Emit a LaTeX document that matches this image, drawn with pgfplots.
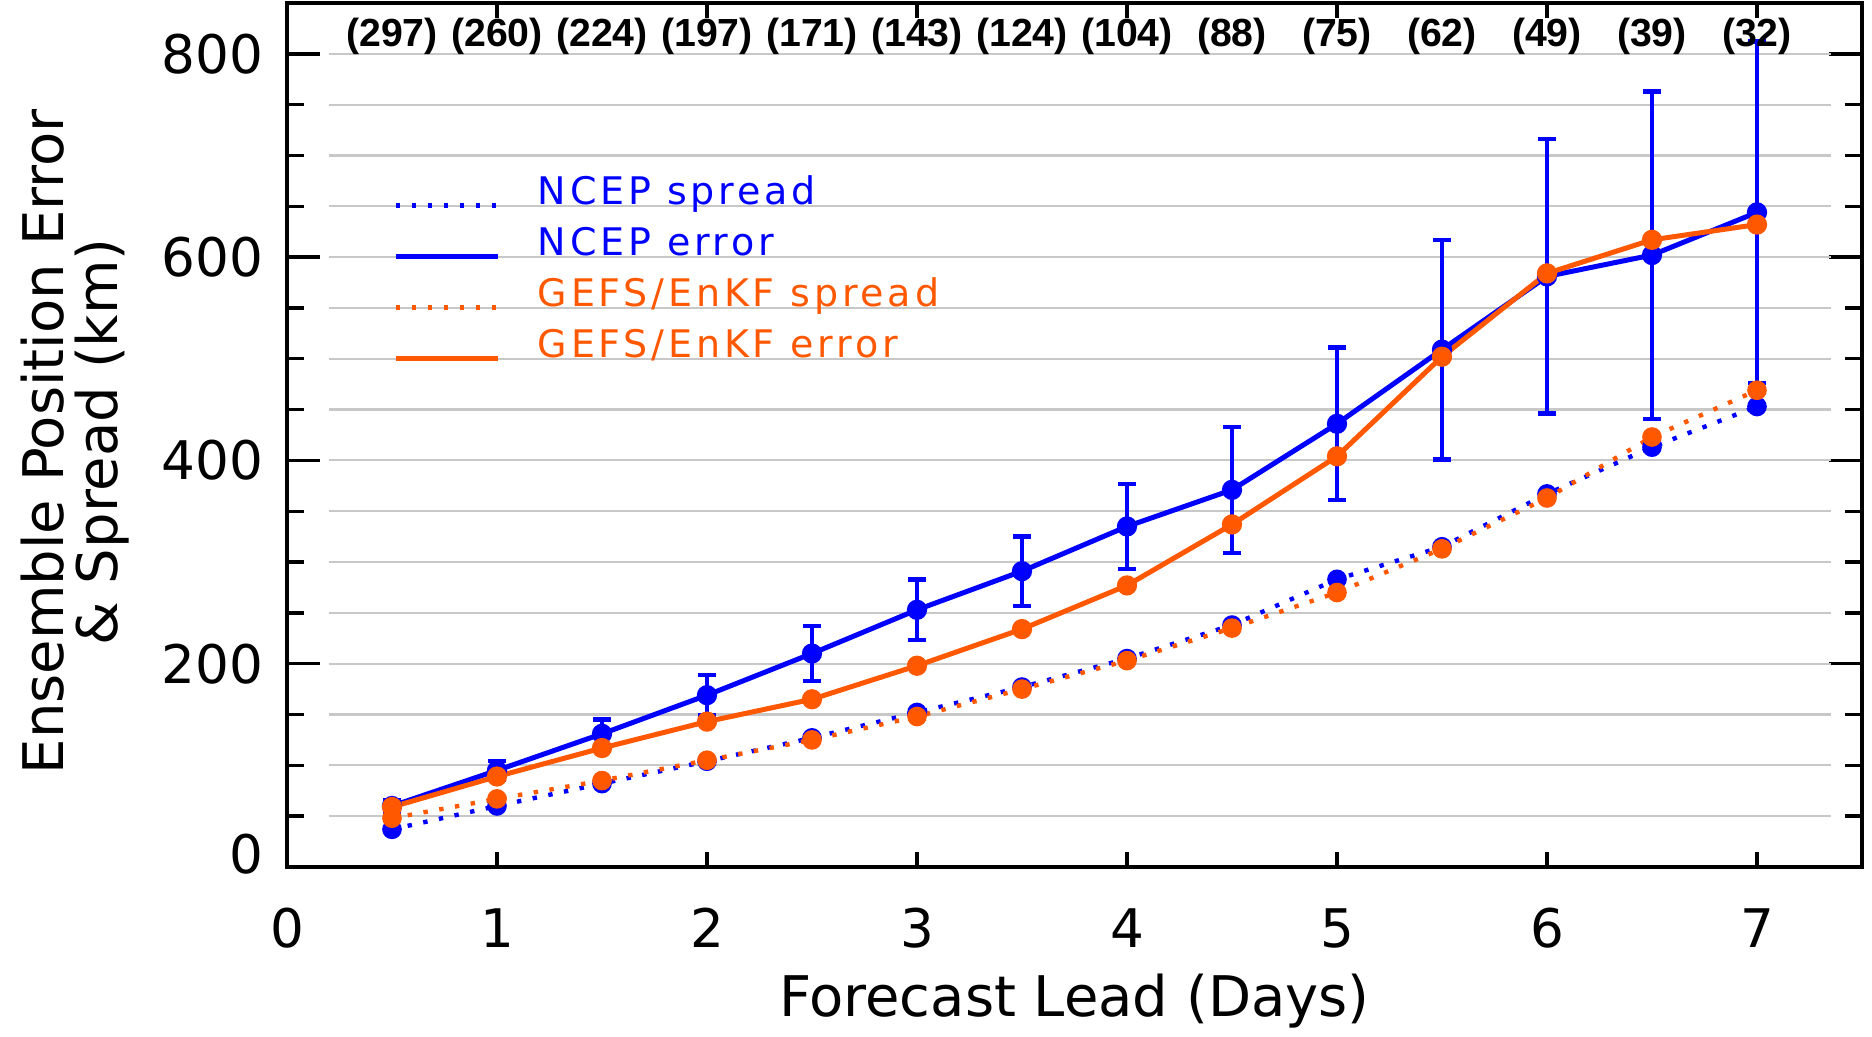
\documentclass[border=0pt]{standalone}
\usepackage{pgfplots}
\usepackage{pgfplotstable}
\pgfplotsset{compat=1.18}
\usepackage{fontspec}
\setmainfont{DejaVu Sans}
\newfontfamily\legfont[LetterSpace=10]{DejaVu Sans}
\newfontfamily\cntfont{Liberation Sans}
\definecolor{ncep}{RGB}{0,0,255}
\definecolor{gefs}{RGB}{255,88,0}
\definecolor{gridc}{RGB}{200,200,200}

\pgfplotstableread{
x    ne  ee  ge  ns  gs
0.5  60   6  59  37  48
1.0  95   9  89  60  67
1.5 131  14 117  82  85
2.0 169  20 143 104 105
2.5 210  27 165 127 125
3.0 253  30 198 152 148
3.5 291  34 234 177 175
4.0 335  42 277 205 203
4.5 371  62 337 238 235
5.0 436  75 404 283 270
5.5 509 108 502 315 313
6.0 581 135 584 367 363
6.5 602 161 617 413 423
7.0 644 168 632 453 469
}\data

\tikzset{
  spreadst/.style={line width=1.1pt, dash pattern=on 1.1pt off 2.9pt},
  errst/.style={line width=1.25pt},
  cnt/.style={anchor=base, inner sep=0pt, font=\cntfont\bfseries\fontsize{9.8}{10}\selectfont},
}

\begin{document}
\begin{tikzpicture}
\begin{axis}[
  scale only axis, width=393.75pt, height=216pt,
  xmin=0, xmax=7.5, ymin=0, ymax=850,
  axis line style={line width=0.85pt},
  xtick={0,1,2,3,4,5,6,7},
  xticklabels={0,1,2,3,4,5,6,7},
  ytick={0,200,400,600,800},
  yticklabels={{\raisebox{6.5pt}{0}},200,400,600,800},
  minor y tick num=3,
  tick style={black, line width=0.85pt},
  major tick length=8.25pt, minor tick length=4.25pt,
  xtick style={/pgfplots/major tick length=3.75pt},
  tick label style={font=\fontsize{13.3}{14}\selectfont},
  xticklabel style={anchor=base, inner sep=0pt, yshift=-20.25pt},
  yticklabel style={anchor=east, inner sep=0pt, xshift=-5.75pt},
  xlabel={Forecast Lead (Days)},
  ylabel={Ensemble Position Error\\\& Spread (km)},
  every axis x label/.style={at={(rel axis cs:0.5,0)}, anchor=base, yshift=-37.5pt, font=\fontsize{14}{14}\selectfont},
  every axis y label/.style={at={(rel axis cs:-0.1346,0.492)}, rotate=90, anchor=center, align=center, font=\fontsize{14}{13.5}\selectfont},
  legend style={draw=none, fill=none, at={(rel axis cs:0.0673,0.7998)}, anchor=north west,
    inner sep=0pt, outer sep=0pt, row sep=3.15pt, column sep=0pt,
    font=\legfont\fontsize{9.5}{11}\selectfont,
    nodes={inner sep=0pt, outer sep=0pt, text height=7.2pt, text depth=2.4pt}},
  legend cell align=left,
  legend image code/.code={\draw[#1] (0pt,-2.6pt) -- (25.5pt,-2.6pt); \path[draw=none, fill=none] (0pt,0pt) -- (35.6pt,0pt);},
]
\pgfplotsinvokeforeach{50,100,...,800}{
  \draw[gridc, line width=0.55pt] (axis cs:0.2,#1) -- (axis cs:7.35,#1);
}

\addlegendimage{ncep, spreadst}
\addlegendentry[text=ncep]{NCEP spread}
\addlegendimage{ncep, errst}
\addlegendentry[text=ncep]{NCEP error}
\addlegendimage{gefs, spreadst}
\addlegendentry[text=gefs]{GEFS/EnKF spread}
\addlegendimage{gefs, errst}
\addlegendentry[text=gefs]{GEFS/EnKF error}

\addplot[forget plot, ncep, spreadst, mark=*, mark size=1.9pt, mark options={solid}] table[x=x, y=ns] {\data};
\addplot[forget plot, ncep, errst, mark=*, mark size=1.9pt,
  error bars/.cd, y dir=both, y explicit,
  error bar style={line width=1.15pt, solid},
  error mark options={line width=1.1pt, mark size=2.2pt, rotate=90}] table[x=x, y=ne, y error=ee] {\data};
\addplot[forget plot, gefs, spreadst, mark=*, mark size=1.9pt, mark options={solid}] table[x=x, y=gs] {\data};
\addplot[forget plot, gefs, errst, mark=*, mark size=1.9pt] table[x=x, y=ge] {\data};

\foreach \xx/\nn in {0.5/297,1/260,1.5/224,2/197,2.5/171,3/143,3.5/124,4/104,4.5/88,5/75,5.5/62,6/49,6.5/39,7/32}{
  \edef\tmp{\noexpand\node[cnt] at (axis cs:\xx,807) {(\nn)};}\tmp
}

\coordinate (bl) at (rel axis cs:0,0);
\coordinate (tr) at (rel axis cs:1,1);
\end{axis}
\pgfresetboundingbox
\path ([shift={(-71.75pt,-42.5pt)}]bl) rectangle ([shift={(2.5pt,0.75pt)}]tr);
\end{tikzpicture}
\end{document}
